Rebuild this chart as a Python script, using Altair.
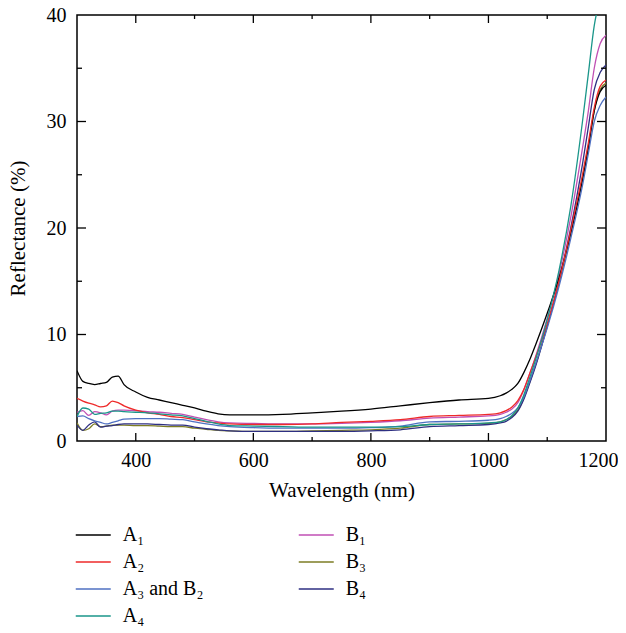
import altair as alt
import pandas as pd

wl = [300, 310, 320, 330, 340, 350, 360, 370, 380, 400, 420, 440, 460, 480, 500, 520, 540, 560,
      600, 650, 700, 750, 800, 850, 900, 950, 1000, 1020, 1030, 1040, 1050, 1060, 1070, 1080,
      1100, 1120, 1140, 1160, 1170, 1180, 1190, 1200]

A1 = [6.6, 5.6, 5.4, 5.3, 5.4, 5.5, 6.0, 6.1, 5.3, 4.6, 4.1, 3.85, 3.6, 3.35, 3.1, 2.8, 2.55, 2.45,
      2.45, 2.5, 2.65, 2.8, 3.0, 3.3, 3.6, 3.85, 4.0, 4.25, 4.5, 4.85, 5.4, 6.4, 7.6, 9.0,
      12.0, 15.3, 19.5, 24.5, 27.5, 31.0, 32.8, 33.4]
A2 = [4.0, 3.75, 3.55, 3.4, 3.2, 3.3, 3.75, 3.6, 3.3, 2.9, 2.65, 2.5, 2.3, 2.2, 2.0, 1.8, 1.7, 1.6,
      1.55, 1.55, 1.6, 1.75, 1.85, 2.0, 2.3, 2.4, 2.5, 2.65, 2.85, 3.2, 3.8, 4.8, 6.3, 7.8,
      11.0, 15.0, 19.8, 25.0, 28.0, 31.3, 33.3, 33.9]
A3B2 = [2.3, 2.35, 2.1, 1.9, 1.75, 1.6, 1.75, 1.9, 2.05, 2.1, 2.1, 2.1, 2.05, 2.0, 1.8, 1.6, 1.45, 1.35,
        1.25, 1.2, 1.2, 1.2, 1.25, 1.4, 1.8, 1.85, 1.95, 2.1, 2.3, 2.6, 3.1, 4.1, 5.6, 7.2,
        10.6, 14.5, 19.0, 24.0, 27.0, 30.0, 31.5, 32.3]
A4 = [2.3, 3.1, 3.0, 2.5, 2.6, 2.65, 2.8, 2.8, 2.75, 2.7, 2.65, 2.55, 2.45, 2.35, 2.1, 1.85, 1.6, 1.45,
      1.4, 1.35, 1.3, 1.3, 1.3, 1.35, 1.55, 1.6, 1.7, 1.8, 2.0, 2.4, 3.1, 4.3, 5.9, 7.6,
      11.4, 16.0, 22.0, 30.0, 34.5, 39.0, 41.5, 43.0]
B1 = [2.7, 2.85, 2.4, 2.75, 2.65, 2.45, 2.8, 2.9, 2.9, 2.85, 2.75, 2.7, 2.6, 2.5, 2.25, 2.0, 1.8, 1.7,
      1.65, 1.6, 1.6, 1.65, 1.75, 1.9, 2.15, 2.25, 2.35, 2.5, 2.7, 3.0, 3.6, 4.8, 6.3, 7.9,
      11.5, 15.7, 21.0, 27.5, 31.0, 35.0, 37.3, 38.1]
B3 = [1.7, 1.0, 1.15, 1.6, 1.35, 1.4, 1.5, 1.5, 1.5, 1.45, 1.45, 1.4, 1.35, 1.35, 1.2, 1.1, 1.0, 0.95,
      0.9, 0.9, 0.95, 1.0, 1.05, 1.2, 1.55, 1.6, 1.65, 1.8, 2.0, 2.3, 2.9, 4.0, 5.5, 7.1,
      10.8, 14.8, 19.5, 24.7, 27.7, 31.0, 33.0, 33.6]
B4 = [1.5, 1.0, 1.5, 1.8, 1.3, 1.4, 1.45, 1.55, 1.6, 1.6, 1.6, 1.55, 1.5, 1.5, 1.3, 1.15, 1.05, 0.95,
      0.9, 0.9, 0.9, 0.9, 0.95, 1.05, 1.35, 1.45, 1.55, 1.7, 1.85, 2.2, 2.8, 3.9, 5.4, 7.0,
      10.8, 15.0, 20.0, 26.0, 29.5, 33.0, 34.6, 35.3]

names_A = ["A₁", "A₂", "A₃ and B₂", "A₄"]
colors_A = ["#000000", "#ee2a2a", "#4f70c2", "#1a968a"]
names_B = ["B₁", "B₃", "B₄"]
colors_B = ["#c04fb4", "#7d7d24", "#2e2f82"]

x_major = [400, 600, 800, 1000]
x_minor = [500, 700, 900, 1100]
y_major = [10, 20, 30]
y_minor = [5, 15, 25, 35]
x_labels = [400, 600, 800, 1000, 1200]
y_labels = [0, 10, 20, 30, 40]

W, H = 529, 426
FONT = "Liberation Serif"


def long_df(names, series):
    rows = []
    for n, s in zip(names, series):
        for w, v in zip(wl, s):
            rows.append({"wl": w, "r": v, "s": n})
    return pd.DataFrame(rows)


dfA = long_df(names_A, [A1, A2, A3B2, A4])
dfB = long_df(names_B, [B1, B3, B4])

xs = alt.Scale(domain=[300, 1200], nice=False, zero=False)
ys = alt.Scale(domain=[0, 40], nice=False)

x_axis = alt.Axis(values=x_labels, format="d", title="Wavelength (nm)", labelPadding=9,
                  titlePadding=9, labelFlush=True, labelFlushOffset=12)
y_axis = alt.Axis(values=y_labels, format="d", title="Reflectance (%)", labelPadding=11,
                  titlePadding=18, labelFlush=False)

# stroke symbol drawn 35px long from a smaller nominal size (path spans 4 units)
SYM_SIZE = 306.25
SYM_HALF = 17.5 / 2


def legend(x):
    return alt.Legend(orient="none", legendX=x + SYM_HALF, legendY=510, title=None,
                      symbolType="M-2,0H2", symbolSize=SYM_SIZE, symbolStrokeWidth=1.5,
                      labelOffset=19.5, rowPadding=7, labelFont=FONT, labelFontSize=20,
                      labelColor="black", padding=0, labelLimit=300)


linesA = alt.Chart(dfA).mark_line(clip=True, strokeWidth=1.3, interpolate="monotone").encode(
    x=alt.X("wl:Q", scale=xs, axis=x_axis),
    y=alt.Y("r:Q", scale=ys, axis=y_axis),
    color=alt.Color("s:N", scale=alt.Scale(domain=names_A, range=colors_A), sort=names_A,
                    legend=legend(-2.5)),
)
linesB = alt.Chart(dfB).mark_line(clip=True, strokeWidth=1.3, interpolate="monotone").encode(
    x=alt.X("wl:Q", scale=xs, axis=x_axis),
    y=alt.Y("r:Q", scale=ys, axis=y_axis),
    color=alt.Color("s:N", scale=alt.Scale(domain=names_B, range=colors_B), sort=names_B,
                    legend=legend(220.5)),
)


def xticks(vals, length):
    d = pd.DataFrame({"wl": vals})
    bot = alt.Chart(d).mark_rule(color="black", strokeWidth=1.3).encode(
        x=alt.X("wl:Q", scale=xs, axis=x_axis), y=alt.value(H), y2=alt.value(H - length))
    top = alt.Chart(d).mark_rule(color="black", strokeWidth=1.3).encode(
        x=alt.X("wl:Q", scale=xs, axis=x_axis), y=alt.value(0), y2=alt.value(length))
    return [bot, top]


def yticks(vals, length):
    d = pd.DataFrame({"r": vals})
    left = alt.Chart(d).mark_rule(color="black", strokeWidth=1.3).encode(
        y=alt.Y("r:Q", scale=ys, axis=y_axis), x=alt.value(0), x2=alt.value(length))
    right = alt.Chart(d).mark_rule(color="black", strokeWidth=1.3).encode(
        y=alt.Y("r:Q", scale=ys, axis=y_axis), x=alt.value(W), x2=alt.value(W - length))
    return [left, right]


tick_layers = xticks(x_major, 8) + xticks(x_minor, 4) + yticks(y_major, 9) + yticks(y_minor, 5)

chart = alt.layer(linesB, linesA, *tick_layers).resolve_scale(color="independent").properties(
    width=W, height=H,
    autosize=alt.AutoSizeParams(type="none"),
    padding={"left": 69, "top": 7, "right": 12, "bottom": 190},
).configure_view(stroke="black", strokeWidth=1.5).configure_axis(
    labelFont=FONT, titleFont=FONT, labelFontSize=20, titleFontSize=21,
    titleFontWeight="normal", labelColor="black", titleColor="black",
    ticks=False, domain=False, grid=False,
)

chart.save("out.html", embed_options={"renderer": "svg", "actions": False})
